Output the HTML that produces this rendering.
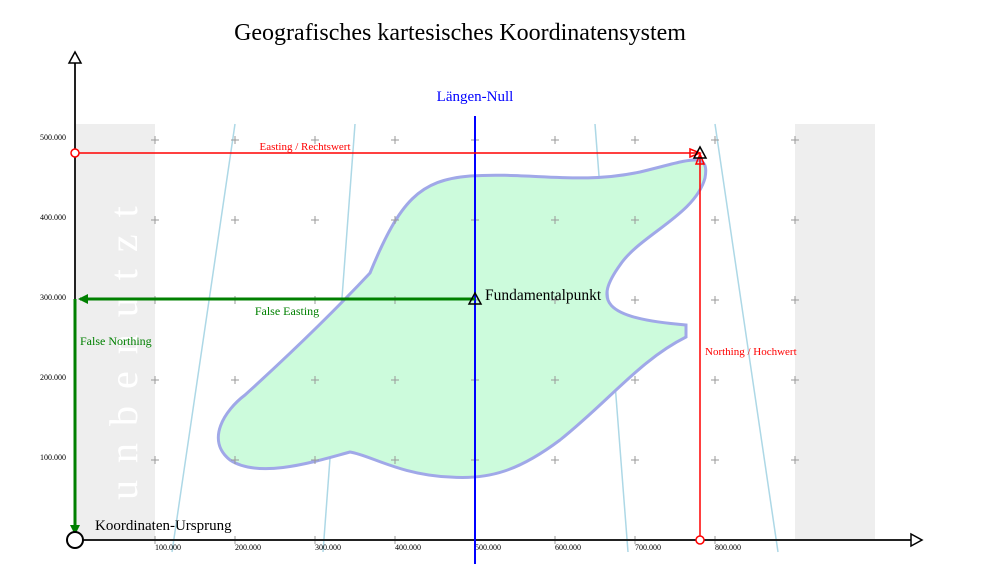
<!DOCTYPE html>
<html><head><meta charset="utf-8"><style>body{margin:0;background:#fff}svg{display:block}</style></head><body>
<svg width="1000" height="570" xmlns="http://www.w3.org/2000/svg" font-family="Liberation Serif, serif">
<rect x="75" y="124" width="80" height="416" fill="#eee"/>
<rect x="795" y="124" width="80" height="416" fill="#eee"/>
<text transform="translate(137,500) rotate(-90)" font-size="40" fill="#fff" letter-spacing="17">unbenutzt</text>
<text x="460" y="40" font-size="24" text-anchor="middle">Geografisches kartesisches Koordinatensystem</text>
<g stroke="#add8e6" stroke-width="1.5">
<line x1="235" y1="124" x2="172" y2="552"/>
<line x1="355" y1="124" x2="323" y2="552"/>
<line x1="595" y1="124" x2="628" y2="552"/>
<line x1="715" y1="124" x2="778" y2="552"/>
</g>
<path d="M370,273 C400,200 420,180 470,176 C530,172 580,185 640,172 C690,160 710,150 705,178 C695,215 640,235 620,265 C595,300 600,318 686,325 L686,337 C640,360 610,400 560,440 C520,470 490,480 450,477 C400,475 370,455 350,452 C320,460 260,480 230,460 C205,440 225,410 245,395 C300,345 340,305 370,273 Z" fill="#ccfbdc" stroke="#a0a8e8" stroke-width="3"/>
<g stroke="#999" stroke-width="1">
<path d="M151,140h8M155,136v8M231,140h8M235,136v8M311,140h8M315,136v8M391,140h8M395,136v8M471,140h8M475,136v8M551,140h8M555,136v8M631,140h8M635,136v8M791,140h8M795,136v8M711,140h8M715,136v8"/>
<path d="M151,220h8M155,216v8M231,220h8M235,216v8M311,220h8M315,216v8M391,220h8M395,216v8M471,220h8M475,216v8M551,220h8M555,216v8M631,220h8M635,216v8M711,220h8M715,216v8M791,220h8M795,216v8"/>
<path d="M151,300h8M155,296v8M231,300h8M235,296v8M311,300h8M315,296v8M391,300h8M395,296v8M471,300h8M475,296v8M551,300h8M555,296v8M631,300h8M635,296v8M711,300h8M715,296v8M791,300h8M795,296v8"/>
<path d="M151,380h8M155,376v8M231,380h8M235,376v8M311,380h8M315,376v8M391,380h8M395,376v8M471,380h8M475,376v8M551,380h8M555,376v8M631,380h8M635,376v8M711,380h8M715,376v8M791,380h8M795,376v8"/>
<path d="M151,460h8M155,456v8M231,460h8M235,456v8M311,460h8M315,456v8M391,460h8M395,456v8M471,460h8M475,456v8M551,460h8M555,456v8M631,460h8M635,456v8M711,460h8M715,456v8M791,460h8M795,456v8"/>
<path d="M155,536v8M235,536v8M315,536v8M395,536v8M475,536v8M555,536v8M635,536v8M715,536v8"/>
</g>
<g font-size="8" fill="#000">
<text x="66" y="140" text-anchor="end">500.000</text><text x="66" y="220" text-anchor="end">400.000</text><text x="66" y="300" text-anchor="end">300.000</text><text x="66" y="380" text-anchor="end">200.000</text><text x="66" y="460" text-anchor="end">100.000</text>
<text x="155" y="550">100.000</text><text x="235" y="550">200.000</text><text x="315" y="550">300.000</text><text x="395" y="550">400.000</text><text x="475" y="550">500.000</text><text x="555" y="550">600.000</text><text x="635" y="550">700.000</text><text x="715" y="550">800.000</text>
</g>
<line x1="75" y1="540" x2="75" y2="62" stroke="#222" stroke-width="2"/>
<polygon points="69,63 81,63 75,52" fill="#fff" stroke="#000" stroke-width="1.5"/>
<line x1="75" y1="540" x2="912" y2="540" stroke="#222" stroke-width="2"/>
<polygon points="911,534 911,546 922,540" fill="#fff" stroke="#000" stroke-width="1.5"/>
<line x1="475" y1="116" x2="475" y2="564" stroke="#00f" stroke-width="2"/>
<text x="475" y="101" font-size="15" fill="#00f" text-anchor="middle">Längen-Null</text>
<line x1="75" y1="153" x2="700" y2="153" stroke="red" stroke-width="1.5"/>
<line x1="700" y1="540" x2="700" y2="155" stroke="red" stroke-width="1.5"/>
<circle cx="75" cy="153" r="4" fill="#fff" stroke="red" stroke-width="1.5"/>
<circle cx="700" cy="540" r="4" fill="#fff" stroke="red" stroke-width="1.5"/>
<polygon points="690,149 700,153 690,157" fill="none" stroke="red" stroke-width="1.5"/>
<polygon points="696,164 700,154 704,164" fill="none" stroke="red" stroke-width="1.5"/>
<polygon points="694,158 706,158 700,147" fill="none" stroke="#000" stroke-width="1.5"/>
<text x="305" y="150" font-size="11" fill="red" text-anchor="middle">Easting / Rechtswert</text>
<text x="705" y="355" font-size="11" fill="red">Northing / Hochwert</text>
<line x1="475" y1="299" x2="80" y2="299" stroke="green" stroke-width="3"/>
<polygon points="78,299 88,294 88,304" fill="green"/>
<line x1="75" y1="299" x2="75" y2="530" stroke="green" stroke-width="3"/>
<polygon points="75,535 70,525 80,525" fill="green"/>
<text x="287" y="315" font-size="12" fill="green" text-anchor="middle">False Easting</text>
<text x="80" y="345" font-size="12" fill="green">False Northing</text>
<polygon points="469,304 481,304 475,293" fill="none" stroke="#000" stroke-width="1.5"/>
<text x="485" y="300" font-size="15.5">Fundamentalpunkt</text>
<circle cx="75" cy="540" r="8" fill="#fff" stroke="#000" stroke-width="2"/>
<text x="95" y="530" font-size="15">Koordinaten-Ursprung</text>
</svg>
</body></html>
